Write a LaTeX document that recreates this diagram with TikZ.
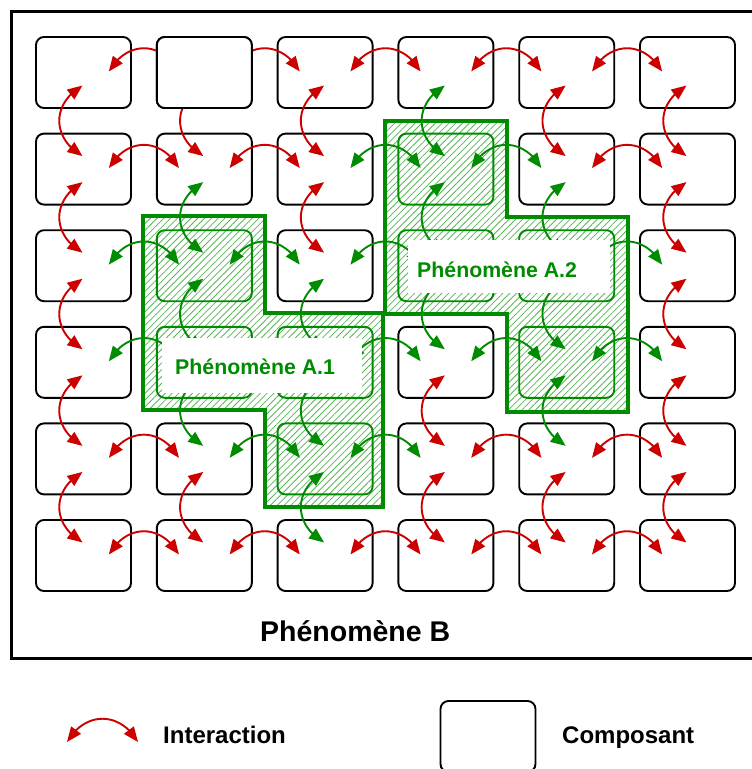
\documentclass[tikz,border=0pt]{standalone}
\usepackage{fontspec}
\setmainfont{Liberation Sans}
\usetikzlibrary{arrows.meta,bending,patterns.meta}

\definecolor{ired}{RGB}{205,0,0}
\definecolor{agreen}{RGB}{0,140,0}

\begin{document}
\begin{tikzpicture}[x=1pt,y=-1pt,
  declare function={inA(\k)=(\k==32)||(\k==42)||(\k==43)||(\k==53)||(\k==24)||(\k==34)||(\k==35)||(\k==45);},
  comp/.style={draw=black,line width=1.9pt,rounded corners=8pt,fill=white,
    minimum width=95pt,minimum height=71pt,inner sep=0pt},
  compA/.style={draw=agreen,line width=1.9pt,rounded corners=8pt,
    minimum width=95pt,minimum height=71pt,inner sep=0pt},
  link/.style={line width=1.9pt,
    {Triangle[length=15pt,width=12pt,flex]}-{Triangle[length=15pt,width=12pt,flex]}},
  hatch/.style={pattern={Lines[angle=45,distance=4.8pt,line width=0.8pt]},
    pattern color=agreen!65},
  zone/.style={draw=agreen,line width=4.5pt},
  tag/.style={anchor=base west,inner sep=0pt,font=\bfseries\fontsize{21.3}{24}\selectfont,text=agreen},
  legtext/.style={anchor=base west,inner sep=0pt,font=\bfseries\fontsize{24}{28}\selectfont},
  whitebox/.style={fill=white,inner sep=0pt}
]
\useasboundingbox (0,0) rectangle (752,769);

% outer frame of phenomenon B
\draw[line width=3pt] (11.5,11.5) rectangle (770,658);

% hatched zones of phenomena A.1 and A.2
\path[hatch] (143,216) -- (265,216) -- (265,313) -- (383,313) -- (383,507)
  -- (265,507) -- (265,410) -- (143,410) -- cycle;
\path[hatch] (385,121) -- (507,121) -- (507,217) -- (628,217) -- (628,412)
  -- (507,412) -- (507,314) -- (385,314) -- cycle;
\draw[zone] (143,216) -- (265,216) -- (265,313) -- (383,313) -- (383,507)
  -- (265,507) -- (265,410) -- (143,410) -- cycle;
\draw[zone] (385,121) -- (507,121) -- (507,217) -- (628,217) -- (628,412)
  -- (507,412) -- (507,314) -- (385,314) -- cycle;

% grid of components
\foreach \r in {1,...,6}{
  \foreach \c in {1,...,6}{
    \pgfmathtruncatemacro\isA{inA(10*\r+\c)}
    \ifnum\isA=1 \tikzset{cur/.style={compA}}\else\tikzset{cur/.style={comp}}\fi
    \node[cur] (b\r\c) at ({83.5+120.8*(\c-1)},{72.5+96.6*(\r-1)}) {};
  }
}

% horizontal interactions
\foreach \r in {1,...,6}{
  \foreach \c in {1,...,5}{
    \pgfmathtruncatemacro\cn{\c+1}
    \pgfmathtruncatemacro\g{inA(10*\r+\c)+inA(10*\r+\cn)}
    \pgfmathtruncatemacro\hid{(10*\r+\c==42)||(10*\r+\c==34)}
    \ifnum\hid=0
      \ifnum\g>0 \def\col{agreen}\else\def\col{ired}\fi
      \draw[link,color=\col] ([shift={(25.3,-1)}]b\r\c.center)
        .. controls +(18,-31) and +(-18,-31) .. ([shift={(-25.3,-1)}]b\r\cn.center);
    \fi
  }
}

% vertical interactions
\foreach \r in {1,...,5}{
  \foreach \c in {1,...,6}{
    \pgfmathtruncatemacro\rn{\r+1}
    \pgfmathtruncatemacro\g{inA(10*\r+\c)+inA(10*\rn+\c)}
    \ifnum\g>0 \def\col{agreen}\else\def\col{ired}\fi
    \draw[link,color=\col] ([shift={(-1,13)}]b\r\c.center)
      .. controls +(-31,18) and +(-31,-18) .. ([shift={(-1,-13)}]b\rn\c.center);
  }
}

% labels of the phenomena
\node[whitebox,minimum width=200pt,minimum height=55pt] (A1box) at (262,365.5) {};
\node[tag] (A1text) at (175,374) {Phénomène A.1};
\node[whitebox,minimum width=202pt,minimum height=53pt] (A2box) at (509,266.5) {};
\node[tag] (A2text) at (417,277) {Phénomène A.2};

% opaque component on top
\node[comp] (b12top) at (b12.center) {};

\node[anchor=base west,inner sep=0pt,font=\bfseries\fontsize{28.5}{32}\selectfont] (Btext) at (260,641) {Phénomène B};

% legend
\coordinate (legL) at (67,742);
\coordinate (legR) at (138,742);
\draw[link,color=ired] (legL) .. controls +(18,-31) and +(-18,-31) .. (legR);
\node[legtext] (legI) at (163,743) {Interaction};
\node[comp] (legbox) at (488,736.5) {};
\node[legtext] (legC) at (562,743) {Composant};
\end{tikzpicture}
\end{document}
